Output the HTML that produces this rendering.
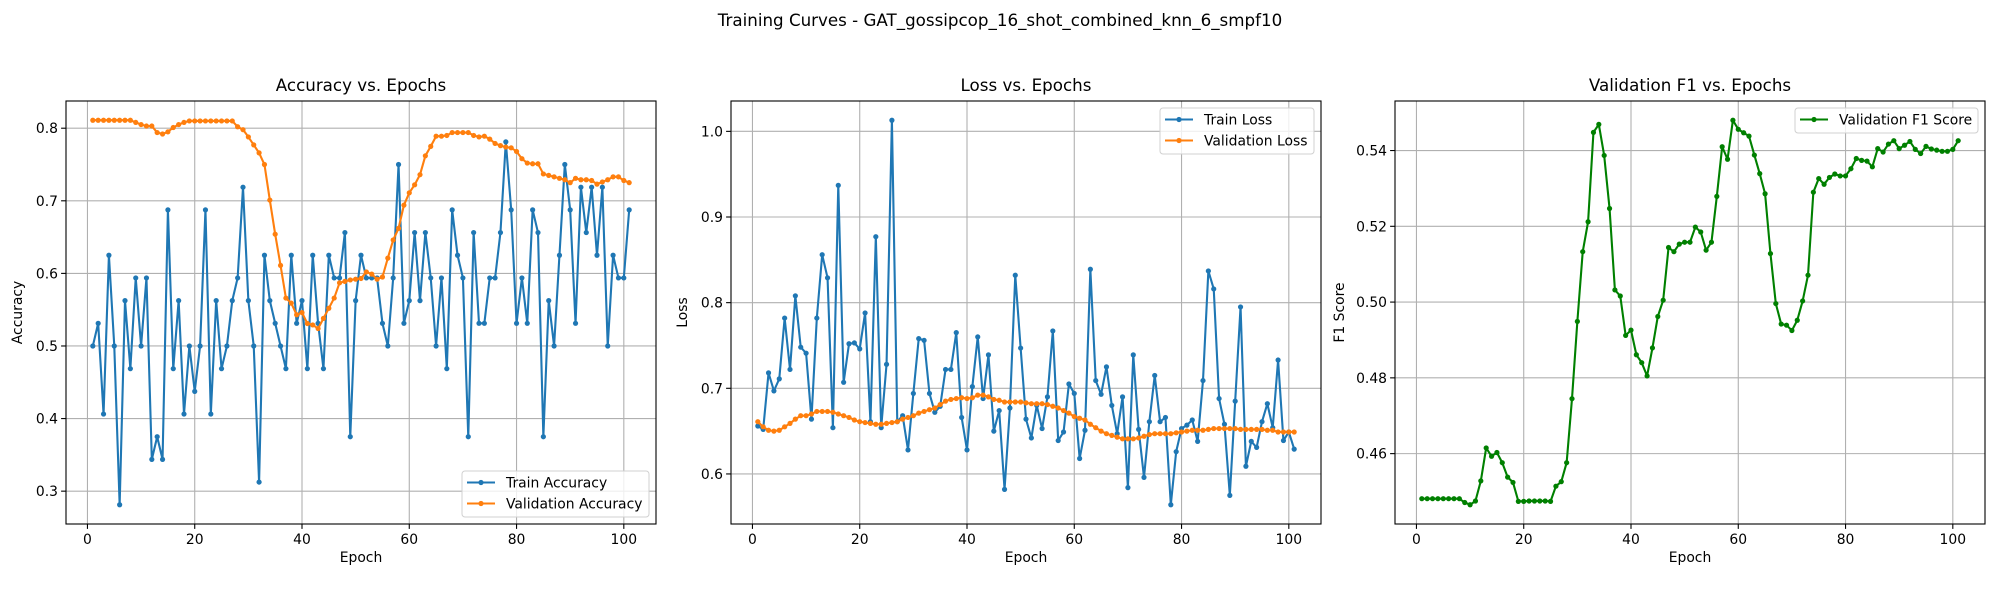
<!DOCTYPE html>
<html><head><meta charset="utf-8">
<style>
html,body{margin:0;padding:0;background:#fff;}
svg{display:block;font-family:"DejaVu Sans","Liberation Sans",sans-serif;}
</style></head>
<body>
<svg id="fig" width="2000" height="600" viewBox="0 0 2000 600" xmlns="http://www.w3.org/2000/svg">
<rect x="0" y="0" width="2000" height="600" fill="#fff"/>
<text x="1000" y="26" font-size="16.7" text-anchor="middle" fill="#000">Training Curves - GAT_gossipcop_16_shot_combined_knn_6_smpf10</text>
</svg>
<script>
const epochs = Array.from({length:101},(_,i)=>i+1);
const trainAcc = [0.5,0.53125,0.40625,0.625,0.5,0.28125,0.5625,0.46875,0.59375,0.5,0.59375,0.34375,0.375,0.34375,0.6875,0.46875,0.5625,0.40625,0.5,0.4375,0.5,0.6875,0.40625,0.5625,0.46875,0.5,0.5625,0.59375,0.71875,0.5625,0.5,0.3125,0.625,0.5625,0.53125,0.5,0.46875,0.625,0.53125,0.5625,0.46875,0.625,0.53125,0.46875,0.625,0.59375,0.59375,0.65625,0.375,0.5625,0.625,0.59375,0.59375,0.59375,0.53125,0.5,0.59375,0.75,0.53125,0.5625,0.65625,0.5625,0.65625,0.59375,0.5,0.59375,0.46875,0.6875,0.625,0.59375,0.375,0.65625,0.53125,0.53125,0.59375,0.59375,0.65625,0.78125,0.6875,0.53125,0.59375,0.53125,0.6875,0.65625,0.375,0.5625,0.5,0.625,0.75,0.6875,0.53125,0.71875,0.65625,0.71875,0.625,0.71875,0.5,0.625,0.59375,0.59375,0.6875];
const valAcc = [0.811,0.811,0.811,0.811,0.811,0.811,0.811,0.811,0.808,0.805,0.803,0.803,0.794,0.792,0.795,0.801,0.805,0.808,0.81,0.81,0.81,0.81,0.81,0.81,0.81,0.81,0.81,0.802,0.798,0.788,0.777,0.766,0.75,0.701,0.654,0.611,0.566,0.559,0.543,0.546,0.531,0.529,0.524,0.538,0.552,0.566,0.587,0.589,0.591,0.592,0.593,0.602,0.599,0.592,0.595,0.621,0.646,0.662,0.694,0.711,0.722,0.736,0.762,0.775,0.789,0.789,0.79,0.794,0.794,0.794,0.794,0.79,0.788,0.789,0.785,0.779,0.776,0.774,0.773,0.768,0.758,0.752,0.751,0.751,0.737,0.735,0.733,0.731,0.729,0.725,0.731,0.729,0.729,0.728,0.723,0.726,0.729,0.733,0.733,0.728,0.725];
const trainLoss = [0.656,0.652,0.718,0.697,0.711,0.782,0.722,0.808,0.748,0.741,0.664,0.782,0.856,0.829,0.654,0.937,0.707,0.752,0.753,0.746,0.788,0.661,0.877,0.654,0.728,1.013,0.661,0.668,0.628,0.694,0.758,0.756,0.694,0.672,0.679,0.722,0.722,0.765,0.666,0.628,0.702,0.76,0.688,0.739,0.65,0.674,0.582,0.677,0.832,0.747,0.664,0.642,0.68,0.653,0.69,0.767,0.639,0.649,0.705,0.694,0.618,0.651,0.839,0.709,0.693,0.725,0.68,0.647,0.69,0.584,0.739,0.652,0.596,0.661,0.715,0.661,0.666,0.564,0.626,0.653,0.657,0.663,0.638,0.709,0.837,0.816,0.688,0.658,0.575,0.685,0.795,0.609,0.638,0.631,0.661,0.682,0.654,0.733,0.639,0.649,0.629];
const valLoss = [0.661,0.655,0.651,0.65,0.651,0.655,0.659,0.664,0.668,0.668,0.67,0.673,0.673,0.673,0.672,0.67,0.668,0.666,0.663,0.661,0.66,0.659,0.658,0.658,0.659,0.66,0.661,0.664,0.666,0.668,0.671,0.673,0.675,0.677,0.681,0.685,0.687,0.688,0.689,0.688,0.689,0.692,0.692,0.69,0.687,0.686,0.684,0.684,0.684,0.684,0.683,0.682,0.682,0.682,0.681,0.679,0.677,0.674,0.671,0.667,0.665,0.663,0.658,0.654,0.65,0.647,0.645,0.643,0.641,0.641,0.641,0.642,0.644,0.646,0.647,0.647,0.647,0.647,0.648,0.649,0.65,0.651,0.651,0.651,0.652,0.653,0.653,0.653,0.653,0.653,0.652,0.652,0.652,0.652,0.652,0.651,0.651,0.649,0.649,0.649,0.649];
const valF1 = [0.4481,0.4481,0.4481,0.4481,0.4481,0.4481,0.4481,0.4481,0.4471,0.4465,0.4475,0.4528,0.4615,0.4593,0.4603,0.4576,0.4538,0.4524,0.4474,0.4474,0.4475,0.4475,0.4475,0.4475,0.4474,0.4514,0.4526,0.4576,0.4745,0.4949,0.5133,0.5212,0.5448,0.5469,0.5387,0.5247,0.5032,0.5016,0.4912,0.4926,0.4861,0.484,0.4805,0.4879,0.4962,0.5005,0.5144,0.5133,0.5153,0.5158,0.5158,0.5198,0.5185,0.5137,0.5158,0.5279,0.541,0.5377,0.548,0.5456,0.5447,0.5438,0.5388,0.5339,0.5286,0.5128,0.4996,0.4942,0.4939,0.4925,0.4952,0.5003,0.5071,0.529,0.5326,0.5311,0.5329,0.5338,0.5333,0.5333,0.5352,0.5379,0.5374,0.5372,0.5357,0.5405,0.5396,0.5417,0.5426,0.5405,0.5414,0.5424,0.5403,0.5392,0.5411,0.5404,0.5401,0.5398,0.5398,0.5403,0.5426];
const xTicks = [0,20,40,60,80,100];
const accTicks = [0.3,0.4,0.5,0.6,0.7,0.8];
const accTickLabels = ["0.3","0.4","0.5","0.6","0.7","0.8"];
const lossTicks = [0.6,0.7,0.8,0.9,1.0];
const lossTickLabels = ["0.6","0.7","0.8","0.9","1.0"];
const f1Ticks = [0.46,0.48,0.50,0.52,0.54];
const f1TickLabels = ["0.46","0.48","0.50","0.52","0.54"];

const NS = "http://www.w3.org/2000/svg";
const svg = document.getElementById('fig');
function mk(tag, attrs, parent){
  const e = document.createElementNS(NS, tag);
  for (const k in attrs) e.setAttribute(k, attrs[k]);
  (parent||svg).appendChild(e);
  return e;
}
const TOP=101, BOT=524, W=590;

function panel(cfg){
  const L = cfg.left, R = L+W;
  const g = mk('g', {});
  
  
  const allY = [].concat(...cfg.series.map(s=>s.values));
  let ymin = Math.min(...allY), ymax = Math.max(...allY);
  const pad = (ymax-ymin)*0.05; ymin -= pad; ymax += pad;
  const xmin = epochs[0] - (epochs[epochs.length-1]-epochs[0])*0.05;
  const xmax = epochs[epochs.length-1] + (epochs[epochs.length-1]-epochs[0])*0.05;
  const xs = v => L + (v-xmin)/(xmax-xmin)*W;
  const ys = v => BOT - (v-ymin)/(ymax-ymin)*(BOT-TOP);
  // grid
  xTicks.forEach(t=>{
    const ln = mk('line',{x1:xs(t),x2:xs(t),y1:TOP,y2:BOT,stroke:'#b0b0b0','stroke-width':1.1},g);
    
    
    mk('line',{x1:xs(t),x2:xs(t),y1:BOT,y2:BOT+4.9,stroke:'#000','stroke-width':1.1},g);
    const tx = mk('text',{x:xs(t),y:BOT+20,'font-size':13.9,'text-anchor':'middle',fill:'#000'},g);
    tx.textContent = String(t);
    
    
  });
  cfg.yTicks.forEach((t,i)=>{
    const ln = mk('line',{x1:L,x2:R,y1:ys(t),y2:ys(t),stroke:'#b0b0b0','stroke-width':1.1},g);
    
    
    mk('line',{x1:L-4.9,x2:L,y1:ys(t),y2:ys(t),stroke:'#000','stroke-width':1.1},g);
    const tx = mk('text',{x:L-8,y:ys(t)+5,'font-size':13.9,'text-anchor':'end',fill:'#000'},g);
    tx.textContent = cfg.yTickLabels[i];
    
    
  });
  // series
  cfg.series.forEach(s=>{
    const sg = mk('g',{},g);
    
    
    const pts = s.values.map((v,i)=>xs(epochs[i]).toFixed(2)+','+ys(v).toFixed(2)).join(' ');
    mk('polyline',{points:pts,fill:'none',stroke:s.color,'stroke-width':2.1,'stroke-linejoin':'round'},sg);
    s.values.forEach((v,i)=>{
      const c = mk('circle',{cx:xs(epochs[i]),cy:ys(v),r:2.6,fill:s.color},sg);
      
      
    });
  });
  // frame
  const fr = mk('rect',{x:L,y:TOP,width:W,height:BOT-TOP,fill:'none',stroke:'#000','stroke-width':1.1},g);
  
  
  const tt = mk('text',{x:L+W/2,y:91,'font-size':16.7,'text-anchor':'middle',fill:'#000'},g);
  tt.textContent = cfg.title;
  
  
  const xl = mk('text',{x:L+W/2,y:562,'font-size':13.9,'text-anchor':'middle',fill:'#000'},g);
  xl.textContent = 'Epoch';
  
  
  const yx = L - cfg.ylabOff;
  const yl = mk('text',{x:yx,y:(TOP+BOT)/2,'font-size':13.9,'text-anchor':'middle',fill:'#000',transform:`rotate(-90 ${yx} ${(TOP+BOT)/2})`},g);
  yl.textContent = cfg.ylabel;
  
  
  // legend
  const lg = cfg.legend;
  const lgG = mk('g',{},g);
  
  
  mk('rect',{x:lg.x,y:lg.y,width:lg.w,height:lg.h,rx:3,fill:'#fff','fill-opacity':0.8,stroke:'#d0d0d0','stroke-width':1},lgG);
  cfg.series.forEach((s,i)=>{
    const cy = lg.y + 11.5 + i*21;
    mk('line',{x1:lg.x+5,x2:lg.x+33,y1:cy,y2:cy,stroke:s.color,'stroke-width':2.1},lgG);
    mk('circle',{cx:lg.x+19,cy:cy,r:2.6,fill:s.color},lgG);
    const t = mk('text',{x:lg.x+44,y:cy+5,'font-size':13.9,fill:'#000'},lgG);
    t.textContent = s.label;
    
    
  });
}

panel({name:'accuracy-panel',left:66,title:'Accuracy vs. Epochs',ylabel:'Accuracy',ylabOff:44,
  yTicks:accTicks,yTickLabels:accTickLabels,
  series:[{name:'train-accuracy-line',label:'Train Accuracy',color:'#1f77b4',values:trainAcc},
          {name:'validation-accuracy-line',label:'Validation Accuracy',color:'#ff7f0e',values:valAcc}],
  legend:{x:462,y:471,w:187,h:46}});
panel({name:'loss-panel',left:731,title:'Loss vs. Epochs',ylabel:'Loss',ylabOff:44,
  yTicks:lossTicks,yTickLabels:lossTickLabels,
  series:[{name:'train-loss-line',label:'Train Loss',color:'#1f77b4',values:trainLoss},
          {name:'validation-loss-line',label:'Validation Loss',color:'#ff7f0e',values:valLoss}],
  legend:{x:1160,y:108,w:154,h:46}});
panel({name:'f1-panel',left:1395,title:'Validation F1 vs. Epochs',ylabel:'F1 Score',ylabOff:51,
  yTicks:f1Ticks,yTickLabels:f1TickLabels,
  series:[{name:'validation-f1-line',label:'Validation F1 Score',color:'#008000',values:valF1}],
  legend:{x:1795,y:108,w:183,h:25}});
</script>
</body></html>
